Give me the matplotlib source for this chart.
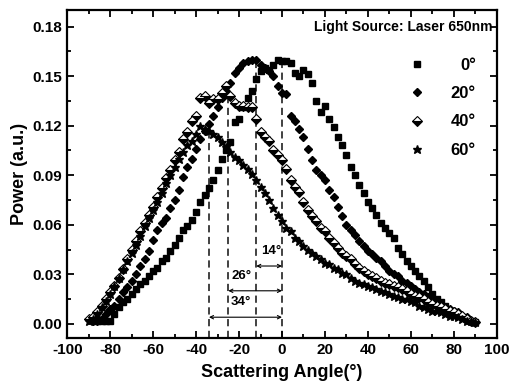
import numpy as np
import matplotlib
matplotlib.use("Agg")
import matplotlib.pyplot as plt
from matplotlib.ticker import MultipleLocator, FormatStrFormatter

plt.rcParams['font.family'] = ['Liberation Sans', 'DejaVu Sans']
plt.rcParams['font.weight'] = 'bold'
plt.rcParams['axes.unicode_minus'] = False

# -------- dados --------
ang_0 = np.arange(-86, 91, 2)
pot_0 = [0.002, 0.002, 0.002, 0.002, 0.006, 0.010, 0.013, 0.015, 0.018, 0.021,
         0.024, 0.026, 0.029, 0.032, 0.034, 0.038, 0.040, 0.044, 0.048, 0.052,
         0.057, 0.059, 0.063, 0.068, 0.074, 0.078, 0.082, 0.087, 0.093, 0.100,
         0.105, 0.110, 0.122, 0.124, 0.131, 0.137, 0.141, 0.148, 0.153, 0.155,
         0.154, 0.157, 0.160, 0.159, 0.159, 0.158, 0.152, 0.150, 0.154, 0.151,
         0.146, 0.135, 0.128, 0.132, 0.124, 0.119, 0.113, 0.108, 0.102, 0.095,
         0.090, 0.084, 0.079, 0.074, 0.070, 0.066, 0.061, 0.058, 0.055, 0.052,
         0.046, 0.042, 0.038, 0.035, 0.032, 0.029, 0.026, 0.022, 0.018, 0.015,
         0.013, 0.011, 0.008, 0.007, 0.005, 0.004, 0.003, 0.002, 0.001]

ang_20 = np.arange(-88, 91, 2)
pot_20 = [0.002, 0.002, 0.003, 0.006, 0.009, 0.011, 0.015, 0.019, 0.022, 0.026,
          0.030, 0.035, 0.039, 0.044, 0.051, 0.057, 0.061, 0.064, 0.070, 0.075,
          0.081, 0.089, 0.095, 0.100, 0.106, 0.112, 0.117, 0.121, 0.126, 0.131,
          0.137, 0.141, 0.146, 0.152, 0.155, 0.158, 0.159, 0.160, 0.160, 0.157,
          0.155, 0.153, 0.150, 0.144, 0.140, 0.139, 0.126, 0.123, 0.118, 0.113,
          0.106, 0.099, 0.093, 0.090, 0.087, 0.081, 0.077, 0.071, 0.065, 0.060,
          0.057, 0.054, 0.050, 0.047, 0.044, 0.042, 0.040, 0.038, 0.035, 0.032,
          0.030, 0.029, 0.026, 0.025, 0.023, 0.021, 0.019, 0.018, 0.016, 0.015,
          0.013, 0.012, 0.010, 0.009, 0.008, 0.007, 0.005, 0.004, 0.002, 0.001]

ang_40 = np.arange(-90, 91, 2)
pot_40 = [0.003, 0.004, 0.007, 0.011, 0.015, 0.019, 0.023, 0.028, 0.033, 0.039,
          0.045, 0.050, 0.056, 0.061, 0.066, 0.071, 0.077, 0.082, 0.088, 0.093,
          0.099, 0.104, 0.112, 0.116, 0.123, 0.126, 0.137, 0.138, 0.134, 0.136,
          0.136, 0.140, 0.144, 0.138, 0.134, 0.132, 0.132, 0.131, 0.131, 0.124,
          0.116, 0.113, 0.111, 0.105, 0.102, 0.099, 0.094, 0.087, 0.083, 0.080,
          0.074, 0.069, 0.065, 0.062, 0.058, 0.056, 0.052, 0.049, 0.046, 0.043,
          0.041, 0.039, 0.036, 0.034, 0.032, 0.030, 0.029, 0.028, 0.026, 0.025,
          0.024, 0.023, 0.022, 0.021, 0.020, 0.018, 0.017, 0.016, 0.015, 0.013,
          0.012, 0.011, 0.010, 0.009, 0.008, 0.007, 0.006, 0.005, 0.003, 0.002,
          0.001]

ang_60 = np.arange(-90, 91, 2)
pot_60 = [0.002, 0.003, 0.006, 0.010, 0.014, 0.018, 0.023, 0.028, 0.033, 0.038,
          0.043, 0.048, 0.053, 0.059, 0.064, 0.069, 0.074, 0.079, 0.085, 0.090,
          0.095, 0.100, 0.104, 0.108, 0.111, 0.115, 0.120, 0.118, 0.117, 0.115,
          0.113, 0.110, 0.107, 0.104, 0.101, 0.099, 0.096, 0.094, 0.091, 0.087,
          0.083, 0.079, 0.075, 0.070, 0.066, 0.062, 0.058, 0.056, 0.052, 0.050,
          0.047, 0.045, 0.043, 0.041, 0.039, 0.037, 0.036, 0.034, 0.033, 0.031,
          0.030, 0.028, 0.026, 0.025, 0.024, 0.023, 0.022, 0.021, 0.020, 0.019,
          0.018, 0.017, 0.016, 0.015, 0.015, 0.014, 0.013, 0.011, 0.010, 0.009,
          0.008, 0.008, 0.007, 0.006, 0.005, 0.005, 0.004, 0.003, 0.002, 0.002,
          0.001]

rotulos = ["0°", "20°", "40°", "60°"]

# linhas verticais tracejadas (pico de cada curva) e deslocamentos
pico_ang = [0, -12, -25, -34]
pico_pot = [0.160, 0.160, 0.144, 0.118]
desloc = ["14°", "26°", "34°"]
desloc_y = [0.035, 0.020, 0.004]
desloc_txt_x = [-5, -19, -19]
# ----------------------------------------

fig = plt.figure(figsize=(5.09, 3.87), dpi=100)
ax = fig.add_axes([0.132, 0.127, 0.844, 0.847])

ymin = -0.0085
for a, p in zip(pico_ang, pico_pot):
    ax.plot([a, a], [ymin, p], ls=(0, (4, 2.5)), color="#333333", lw=1.3, zorder=1)

ax.plot(ang_0, pot_0, ls="none", marker="s", ms=4.4, color="black", label=rotulos[0], zorder=3)
ax.plot(ang_20, pot_20, ls="none", marker="D", ms=4.0, color="black", label=rotulos[1], zorder=3)
ax.plot(ang_40, pot_40, ls="none", marker="D", ms=4.7, color="black", fillstyle="bottom",
        markerfacecoloralt="white", markeredgewidth=0.8, label=rotulos[2], zorder=3)
ax.plot(ang_60, pot_60, ls="none", marker="*", ms=6.4, color="black", label=rotulos[3], zorder=3)

# setas de deslocamento
for a, txt, y, tx in zip(pico_ang[1:], desloc, desloc_y, desloc_txt_x):
    ax.annotate("", xy=(0, y), xytext=(a, y),
                arrowprops=dict(arrowstyle="<->", lw=0.8, color="black",
                                shrinkA=0, shrinkB=0, mutation_scale=6))
    ax.text(tx, y + 0.0055, txt, ha="center", va="bottom", fontsize=9.5, fontweight="bold")

ax.text(0.99, 0.948, "Light Source: Laser 650nm", transform=ax.transAxes,
        ha="right", va="center", fontsize=10, fontweight="bold")

leg = ax.legend(loc="upper right", bbox_to_anchor=(0.967, 0.875), frameon=False,
                fontsize=12, handletextpad=1.5, labelspacing=0.8, handlelength=1.0,
                borderaxespad=0)
# textos da legenda alinhados à direita (como no original)
fig.canvas.draw()
caixas = [t.get_window_extent() for t in leg.get_texts()]
direita = max(b.x1 for b in caixas)
W, H = fig.bbox.width, fig.bbox.height
for t, b in zip(leg.get_texts(), caixas):
    fig.text(direita / W, (b.y0 + b.y1) / 2 / H, t.get_text(), ha="right", va="center",
             fontsize=12, fontweight="bold")
    t.set_visible(False)

ax.set_xlim(-100, 100)
ax.set_ylim(ymin, 0.19)
ax.xaxis.set_major_locator(MultipleLocator(20))
ax.xaxis.set_minor_locator(MultipleLocator(10))
ax.yaxis.set_major_locator(MultipleLocator(0.03))
ax.yaxis.set_minor_locator(MultipleLocator(0.015))
ax.yaxis.set_major_formatter(FormatStrFormatter("%.2f"))
ax.tick_params(which="both", direction="in", top=True, right=True, width=1.3)
ax.tick_params(which="major", length=5, labelsize=11)
ax.tick_params(which="minor", length=3)
for lab in ax.get_xticklabels() + ax.get_yticklabels():
    lab.set_fontweight("bold")
for s in ax.spines.values():
    s.set_linewidth(1.6)

ax.set_xlabel("Scattering Angle(°)", fontsize=13, fontweight="bold", labelpad=5)
ax.set_ylabel("Power (a.u.)", fontsize=13, fontweight="bold", labelpad=3)

fig.savefig("out.png", dpi=100)
